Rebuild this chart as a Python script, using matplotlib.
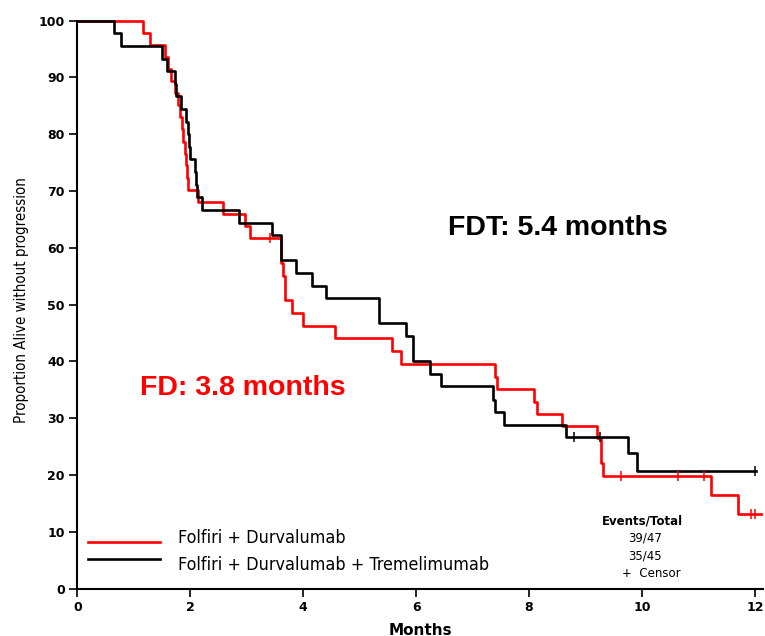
import matplotlib
matplotlib.use("Agg")
import matplotlib.pyplot as plt
from matplotlib import font_manager as fm
import numpy as np

# Kaplan-Meier steps (months, % progression-free after the step)
fd_times = [0, 1.17, 1.29, 1.55, 1.60, 1.65, 1.73, 1.78, 1.82, 1.85, 1.87, 1.91, 1.92,
            1.94, 1.95, 2.14, 2.57, 2.96, 3.05, 3.60, 3.65, 3.68, 3.80, 4.00, 4.56,
            5.57, 5.73, 7.40, 7.43, 8.09, 8.14, 8.58, 9.20, 9.27, 9.31, 11.22, 11.71, 12.15]
fd_surv = [100, 97.9, 95.7, 93.6, 91.5, 89.4, 87.2, 85.1, 83.0, 80.9, 78.7, 76.6, 74.5,
           72.3, 70.2, 68.1, 66.0, 63.8, 61.7, 57.3, 55.0, 50.8, 48.5, 46.3, 44.1,
           41.8, 39.6, 37.3, 35.2, 32.9, 30.8, 28.6, 26.5, 22.1, 19.9, 16.5, 13.1, 13.1]
fd_cens_t = [3.41, 9.63, 10.64, 11.10, 11.94, 12.0]
fd_cens_s = [61.7, 19.9, 19.9, 19.9, 13.1, 13.1]

fdt_times = [0, 0.65, 0.78, 1.49, 1.59, 1.72, 1.75, 1.83, 1.92, 1.95, 1.97, 1.99, 2.08,
             2.10, 2.11, 2.21, 2.87, 3.45, 3.60, 3.87, 4.15, 4.40, 5.35, 5.82, 5.95,
             6.25, 6.44, 7.37, 7.40, 7.56, 8.65, 9.76, 9.91, 12.02]
fdt_surv = [100, 97.8, 95.6, 93.3, 91.1, 88.9, 86.7, 84.4, 82.2, 80.0, 77.8, 75.6, 73.3,
            71.1, 68.9, 66.7, 64.4, 62.2, 57.8, 55.6, 53.3, 51.1, 46.7, 44.4, 40.0,
            37.8, 35.6, 33.3, 31.1, 28.9, 26.7, 23.8, 20.8, 20.8]
fdt_cens_t = [8.79, 9.26, 12.0]
fdt_cens_s = [26.7, 26.7, 20.8]

labels = ["Folfiri + Durvalumab", "Folfiri + Durvalumab + Tremelimumab"]
events = ["39/47", "35/45"]

# look for a narrow sans face (the original uses Arial Narrow)
narrow_file = None
scale = 1.0
files = [f.fname for f in fm.fontManager.ttflist]
for key, sc in [("LiberationSansNarrow-Regular", 1.0), ("DejaVuSansCondensed.ttf", 0.83),
                ("RobotoCondensed-Regular", 1.0)]:
    hits = [p for p in files if key in p]
    if hits:
        narrow_file, scale = hits[0], sc
        break
if narrow_file:
    def narrow(size):
        return fm.FontProperties(fname=narrow_file, size=size * scale)
else:
    def narrow(size):
        return fm.FontProperties(family="Liberation Sans", size=size * 0.82)

fig = plt.figure(figsize=(7.65, 6.36), dpi=100)
ax = fig.add_axes([0.1012, 0.0744, 0.8966, 0.9066])

ax.step(fd_times, fd_surv, where="post", color="#ff0000", lw=1.9, zorder=3)
ax.step(fdt_times, fdt_surv, where="post", color="black", lw=1.9, zorder=3)
ax.plot(fd_cens_t, fd_cens_s, ls="none", marker="|", ms=7, mew=1.1, color="#ff0000", zorder=4)
ax.plot(fdt_cens_t, fdt_cens_s, ls="none", marker="|", ms=7, mew=1.1, color="black", zorder=4)

ax.set_xlim(0, 12.15)
ax.set_ylim(0, 101.5)
ax.set_xticks(np.arange(0, 13, 2))
ax.set_yticks(np.arange(0, 101, 10))
for s in ["top", "right"]:
    ax.spines[s].set_visible(False)
for s in ["left", "bottom"]:
    ax.spines[s].set_linewidth(1.5)
ax.spines["left"].set_bounds(0, 100)
ax.tick_params(direction="out", length=6, width=1.2, labelsize=9, pad=3)
for t in ax.get_xticklabels() + ax.get_yticklabels():
    t.set_fontweight("bold")

ax.set_xlabel("Months", fontsize=11, fontweight="bold", labelpad=6)
ax.set_ylabel("Proportion Alive without progression", fontproperties=narrow(13), labelpad=7)

ax.text(1.11, 35.3, "FD: 3.8 months", color="#ff0000", fontsize=20.5, fontweight="bold",
        family=["Liberation Sans", "DejaVu Sans"], va="center", ha="left")
ax.text(6.56, 63.5, "FDT: 5.4 months", color="black", fontsize=20.5, fontweight="bold",
        family=["Liberation Sans", "DejaVu Sans"], va="center", ha="left")

# legend drawn by hand like the original
ax.plot([0.19, 1.47], [8.3, 8.3], color="#ff0000", lw=1.9, clip_on=False)
ax.plot([0.19, 1.47], [5.2, 5.2], color="black", lw=1.9, clip_on=False)
ax.text(1.78, 8.9, labels[0], fontproperties=narrow(15.5), va="center", ha="left")
ax.text(1.78, 4.2, labels[1], fontproperties=narrow(15.5), va="center", ha="left")

ax.text(10.0, 11.9, "Events/Total", fontsize=8.5, fontweight="bold", ha="center", va="center")
ax.text(10.05, 8.9, events[0], fontsize=8.5, ha="center", va="center")
ax.text(10.05, 5.7, events[1], fontsize=8.5, ha="center", va="center")
ax.text(9.65, 2.7, "+  Censor", fontsize=8.5, ha="left", va="center")

fig.savefig("out.png", dpi=100)
